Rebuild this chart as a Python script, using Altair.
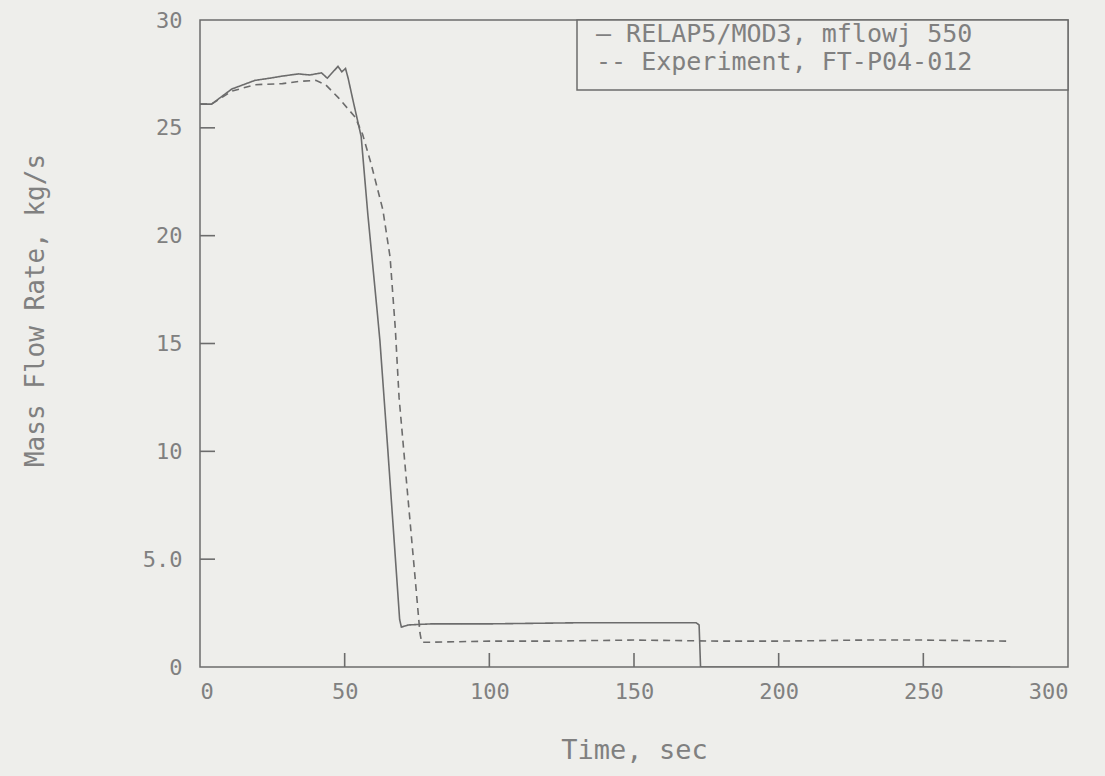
import altair as alt
import pandas as pd

# RELAP5/MOD3 calculation (solid)
relap_t = [0, 4, 11, 19, 24, 28.5, 34, 38, 42, 44, 46, 47.7, 49, 50.3, 51.2, 53, 55.7, 58, 61.3,
           62.2, 64.9, 67.5, 69.0, 69.6, 72, 80, 100, 130, 160, 171.5, 172.5, 173, 200, 250, 280]
relap_v = [26.1, 26.1, 26.8, 27.2, 27.3, 27.4, 27.5, 27.45, 27.55, 27.3, 27.6, 27.85, 27.6, 27.75, 27.3, 26.2, 24.6, 21.0, 16.4,
           15.1, 10.1, 5.1, 2.2, 1.85, 1.95, 2.0, 2.0, 2.05, 2.05, 2.05, 1.95, 0.0, 0.0, 0.0, 0.0]

# Experiment FT-P04-012 (dashed)
exp_t = [0, 4, 11, 19, 28.5, 34, 40, 43.4, 47.8, 53.6, 56.2, 59, 63.2, 65.7, 67.5, 68.8, 71.5, 74.3,
         76.0, 76.6, 80, 100, 120, 150, 180, 200, 230, 250, 279]
exp_v = [26.1, 26.1, 26.7, 27.0, 27.05, 27.15, 27.2, 27.0, 26.4, 25.5, 24.7, 23.4, 21.2, 19.0, 15.7, 12.5, 8.4, 4.2,
         1.6, 1.15, 1.15, 1.2, 1.2, 1.25, 1.2, 1.2, 1.25, 1.25, 1.2]

series_names = ["RELAP5/MOD3, mflowj 550", "Experiment, FT-P04-012"]
legend_marks = ["\u2014 ", "-- "]

x_ticks = [0, 50, 100, 150, 200, 250, 300]
y_ticks = [0, 5, 10, 15, 20, 25, 30]
x_inner_ticks = [50, 100, 150, 200, 250]
y_inner_ticks = [5, 10, 15, 20, 25]

BG = "#eeeeeb"
LINE = "#6c6c6c"
TXT = "#808080"
FONT = "DejaVu Sans Mono"
W, H = 868, 647

df = pd.concat([
    pd.DataFrame({"t": relap_t, "v": relap_v, "series": series_names[0]}),
    pd.DataFrame({"t": exp_t, "v": exp_v, "series": series_names[1]}),
])

xs = alt.Scale(domain=[0, 300], nice=False)
ys = alt.Scale(domain=[0, 30], nice=False)

lines = alt.Chart(df).mark_line(strokeWidth=1.6, clip=True).encode(
    x=alt.X("t:Q", scale=xs, title="Time, sec",
            axis=alt.Axis(values=x_ticks, ticks=False, domain=False, grid=False,
                          labelPadding=14, labelFontSize=22, labelFont=FONT, labelColor=TXT,
                          titleFont=FONT, titleFontSize=27, titleColor=TXT, titleFontWeight="normal",
                          titleY=83, titleBaseline="middle")),
    y=alt.Y("v:Q", scale=ys, title="Mass Flow Rate, kg/s",
            axis=alt.Axis(values=y_ticks, ticks=False, domain=False, grid=False,
                          labelExpr="datum.value == 5 ? '5.0' : datum.label",
                          labelPadding=18, labelFontSize=22, labelFont=FONT, labelColor=TXT,
                          titleFont=FONT, titleFontSize=26, titleColor=TXT, titleFontWeight="normal",
                          titleX=-165, titleY=290, titleBaseline="middle")),
    color=alt.Color("series:N", scale=alt.Scale(domain=series_names, range=[LINE, LINE]), legend=None),
    strokeDash=alt.StrokeDash("series:N", scale=alt.Scale(domain=series_names, range=[[1, 0], [7, 5]]), legend=None),
    order=alt.Order("t:Q"),
)

yt = alt.Chart(pd.DataFrame({"tv": y_inner_ticks})).mark_rule(color=LINE, strokeWidth=1.6).encode(
    y=alt.Y("tv:Q", scale=ys), x=alt.value(0), x2=alt.value(15))
xt = alt.Chart(pd.DataFrame({"tt": x_inner_ticks})).mark_rule(color=LINE, strokeWidth=1.6).encode(
    x=alt.X("tt:Q", scale=xs), y=alt.value(H), y2=alt.value(H - 14))

box = alt.Chart(pd.DataFrame({"k": [0]})).mark_rect(fill=BG, stroke=LINE, strokeWidth=1.5).encode(
    x=alt.value(377), x2=alt.value(W), y=alt.value(0), y2=alt.value(70))

leg1 = alt.Chart(pd.DataFrame({"label": [legend_marks[0] + series_names[0]]})).mark_text(
    align="left", baseline="middle", font=FONT, fontSize=25, color=TXT).encode(
    text="label:N", x=alt.value(396), y=alt.value(14))
leg2 = alt.Chart(pd.DataFrame({"label": [legend_marks[1] + series_names[1]]})).mark_text(
    align="left", baseline="middle", font=FONT, fontSize=25, color=TXT).encode(
    text="label:N", x=alt.value(396), y=alt.value(42))

chart = alt.layer(lines, box, leg1, leg2, yt, xt).properties(
    width=W, height=H,
    autosize=alt.AutoSizeParams(type="none"),
    padding={"left": 200, "top": 20, "right": 37, "bottom": 109},
    background=BG,
).configure_view(stroke=LINE, strokeWidth=1.5)

chart.save("out.html", embed_options={"renderer": "svg", "actions": False})
